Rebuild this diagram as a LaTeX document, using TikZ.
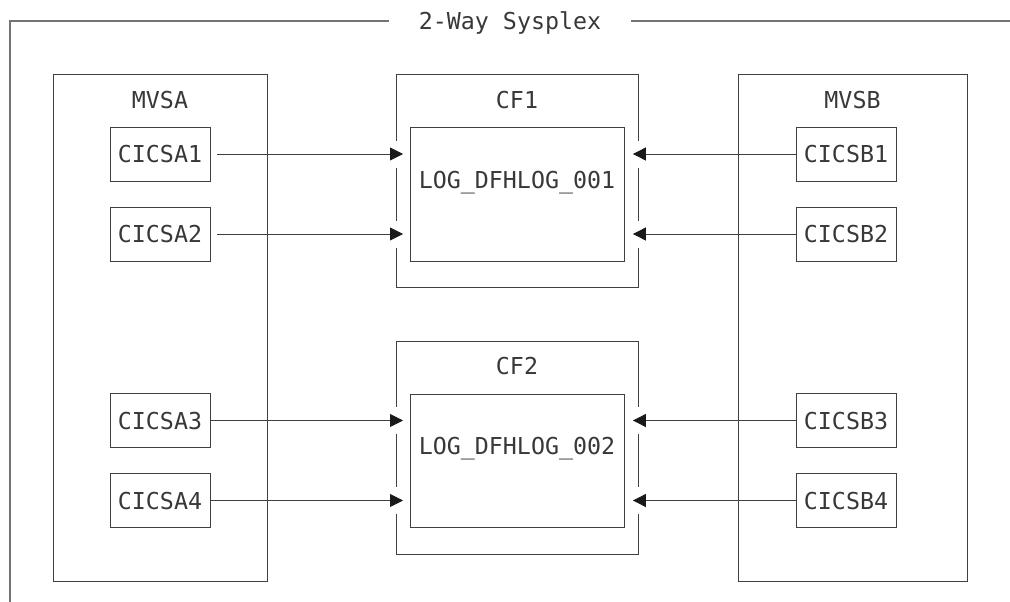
\documentclass[tikz,border=0pt]{standalone}
\usepackage{fontspec}
\newfontfamily\diagfont{DejaVu Sans Mono}
\usetikzlibrary{arrows.meta,calc}
\newcommand{\usc}{\char"5F\relax}
\begin{document}
\begin{tikzpicture}[x=1pt,y=-1pt,
  frameline/.style={draw=black!55, line width=1.2pt},
  boxline/.style={draw=black!75, line width=0.9pt},
  txt/.style={font=\diagfont\fontsize{23.3}{28}\selectfont, text=black!78,
              text height=17pt, text depth=0pt, inner sep=0pt},
  bigbox/.style={boxline, inner sep=0pt, anchor=north west},
  smallbox/.style={txt, boxline, minimum width=100pt, minimum height=54pt},
  arr/.style={draw=black!75, line width=0.9pt, -{Triangle[length=13pt,width=13pt,color=black!90]}},
  gap/.style={fill=white}
]
\useasboundingbox (0,0) rectangle (1010,602);

% outer frame
\coordinate (ftl) at (10,21);
\coordinate (fbl) at (10,602);
\coordinate (ftr) at (1010,21);
\node[txt, inner xsep=30pt] (title) at (510,21) {2-Way Sysplex};
\draw[frameline] (fbl) -- (ftl) -- (title.west);
\draw[frameline] (title.east) -- (ftr);

% MVS boxes
\node[bigbox, minimum width=214pt, minimum height=507pt] (mvsa) at (53,74) {};
\node[bigbox, minimum width=229pt, minimum height=507pt] (mvsb) at (738,74) {};
\node[txt] (mvsalbl) at (160,100) {MVSA};
\node[txt] (mvsblbl) at (852.5,100) {MVSB};

% CF boxes
\node[bigbox, minimum width=242pt, minimum height=213pt] (cf1) at (396,74) {};
\node[bigbox, minimum width=214pt, minimum height=134pt] (cf1in) at (410,127) {};
\node[txt] (cf1lbl) at (517,100) {CF1};
\node[txt] (log1) at (517,180) {LOG\usc DFHLOG\usc 001};

\node[bigbox, minimum width=242pt, minimum height=213pt] (cf2) at (396,341) {};
\node[bigbox, minimum width=214pt, minimum height=133pt] (cf2in) at (410,394) {};
\node[txt] (cf2lbl) at (517,366) {CF2};
\node[txt] (log2) at (517,446) {LOG\usc DFHLOG\usc 002};

% CICS boxes
\node[smallbox] (a1) at (160,154) {CICSA1};
\node[smallbox] (a2) at (160,234) {CICSA2};
\node[smallbox] (a3) at (160,420.5) {CICSA3};
\node[smallbox] (a4) at (160,500.5) {CICSA4};
\node[smallbox] (b1) at (846,154) {CICSB1};
\node[smallbox] (b2) at (846,234) {CICSB2};
\node[smallbox] (b3) at (846,420.5) {CICSB3};
\node[smallbox] (b4) at (846,500.5) {CICSB4};

% gaps in CF outer boxes
\foreach \c/\s in {cf1/a1, cf1/a2, cf2/a3, cf2/a4}{
  \fill[gap] ($(\c.west |- \s.east)+(-3,-13.5)$) rectangle ($(\c.west |- \s.east)+(3,13.5)$);
}
\foreach \c/\s in {cf1/b1, cf1/b2, cf2/b3, cf2/b4}{
  \fill[gap] ($(\c.east |- \s.west)+(-3,-13.5)$) rectangle ($(\c.east |- \s.west)+(3,13.5)$);
}

% connectors
\draw[arr, shorten <=7pt, shorten >=7pt] (a1.east) -- (cf1in.west |- a1.east);
\draw[arr, shorten <=7pt, shorten >=7pt] (a2.east) -- (cf1in.west |- a2.east);
\draw[arr, shorten >=7pt] (a3.east) -- (cf2in.west |- a3.east);
\draw[arr, shorten >=7pt] (a4.east) -- (cf2in.west |- a4.east);
\draw[arr, shorten >=8pt] (b1.west) -- (cf1in.east |- b1.west);
\draw[arr, shorten >=8pt] (b2.west) -- (cf1in.east |- b2.west);
\draw[arr, shorten >=8pt] (b3.west) -- (cf2in.east |- b3.west);
\draw[arr, shorten >=8pt] (b4.west) -- (cf2in.east |- b4.west);
\end{tikzpicture}
\end{document}
